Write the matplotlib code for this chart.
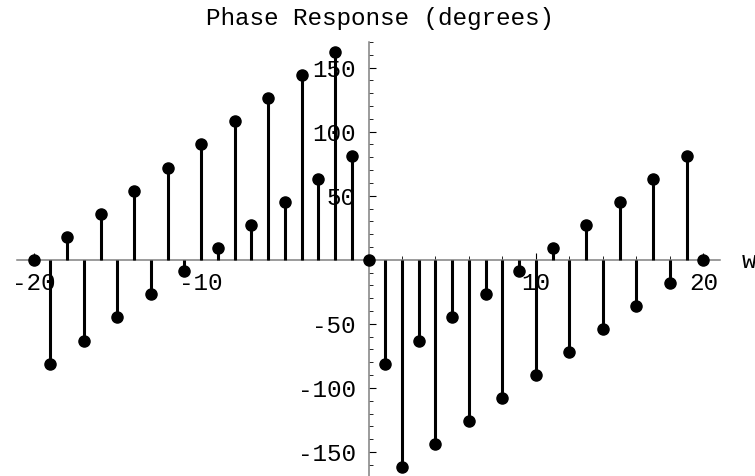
"""Discrete phase response stem plot (Mathematica style)."""
import matplotlib
matplotlib.use("Agg")
import matplotlib.pyplot as plt
from matplotlib.ticker import MultipleLocator

plt.rcParams["font.family"] = ["Liberation Mono", "DejaVu Sans Mono"]

w = list(range(-20, 21))
phase = [
    0, -81, 18, -63, 36, -45, 54, -27, 72, -9,
    90, 9, 108, 27, 126, 45, 144, 63, 162, 81,
    0,
    -81, -162, -63, -144, -45, -126, -27, -108, -9, -90,
    9, -72, 27, -54, 45, -36, 63, -18, 81, 0,
]
xticks = [-20, -10, 10, 20]
yticks = [-150, -100, -50, 50, 100, 150]

fig = plt.figure(figsize=(7.55, 4.76), dpi=100)
ax = fig.add_axes([17 / 755, -1.6 / 476, 703 / 755, 435.6 / 476])

ax.vlines(w, 0, phase, color="black", lw=2.2, zorder=3)
ax.plot(w, phase, "o", color="black", ms=8, zorder=4)

ax.set_xlim(-21, 21)
ax.set_ylim(-170, 170)

for side in ("top", "right"):
    ax.spines[side].set_visible(False)
for side in ("left", "bottom"):
    ax.spines[side].set_position(("data", 0))
    ax.spines[side].set_color("#808080")
    ax.spines[side].set_linewidth(1.1)

ax.set_xticks(xticks)
ax.set_xticklabels([str(t) for t in xticks])
ax.set_yticks(yticks)
ax.set_yticklabels([str(t) for t in yticks])
ax.xaxis.set_minor_locator(MultipleLocator(2))
ax.yaxis.set_minor_locator(MultipleLocator(10))

ax.tick_params(which="both", direction="in", color="black", labelsize=17.5)
ax.tick_params(axis="x", which="major", length=5, width=0.8, pad=9)
ax.tick_params(axis="x", which="minor", length=3, width=0.6)
ax.tick_params(axis="y", which="major", length=5, width=0.8, pad=9)
ax.tick_params(axis="y", which="minor", length=3, width=0.6)

fig.text(380 / 755, 1 - 18 / 476, "Phase Response (degrees)",
         ha="center", va="center", fontsize=17.5)
fig.text(742 / 755, 1 - 262 / 476, "w", ha="left", va="center", fontsize=17.5)

fig.savefig("out.png", dpi=100)
